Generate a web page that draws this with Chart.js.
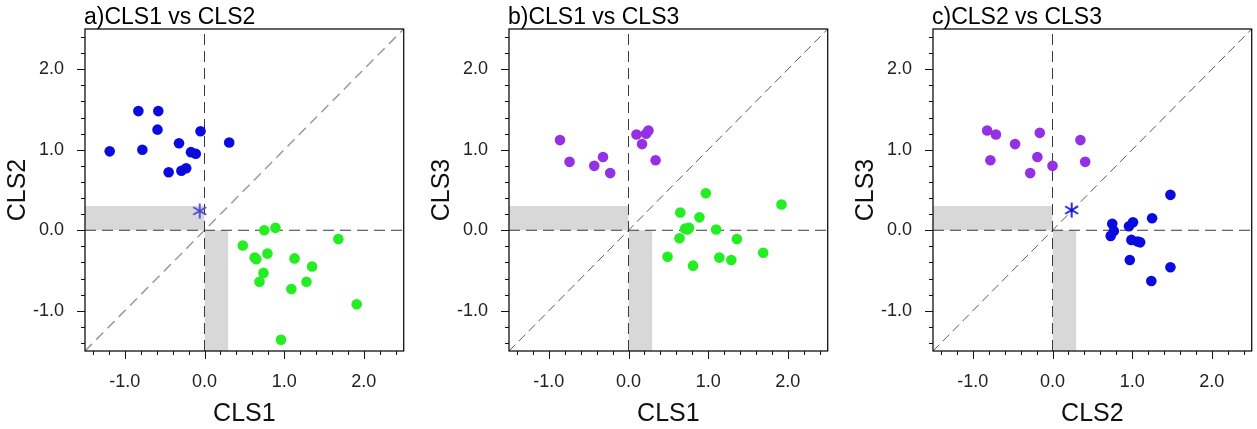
<!DOCTYPE html>
<html>
<head>
  <title>CLS scatter</title>
  <script src="https://cdn.jsdelivr.net/npm/chart.js"></script>
  <style>
    body { margin: 0; background: #fff; width: 1257px; height: 429px; position: relative; overflow: hidden; }
    canvas { position: absolute; top: 0; }
  </style>
</head>
<body>
  <canvas id="pa" width="409" height="429" style="left:0px"></canvas>
  <canvas id="pb" width="409" height="429" style="left:424px"></canvas>
  <canvas id="pc" width="409" height="429" style="left:848px"></canvas>

  <script>
    // panel a) CLS1 vs CLS2
    const aBlueX  = [-1.19, -0.83, -0.58, -0.59, -0.78, -0.05, -0.32, 0.31, -0.17, -0.11, -0.45, -0.29, -0.23];
    const aBlueY  = [0.98, 1.48, 1.48, 1.25, 1.00, 1.23, 1.08, 1.09, 0.97, 0.95, 0.72, 0.74, 0.77];
    const aGreenX = [0.75, 0.89, 0.48, 1.68, 0.63, 0.65, 0.79, 1.13, 1.35, 0.74, 0.69, 1.09, 1.28, 1.91, 0.96];
    const aGreenY = [0.00, 0.03, -0.19, -0.11, -0.34, -0.36, -0.29, -0.35, -0.45, -0.53, -0.64, -0.73, -0.64, -0.92, -1.36];
    const aStar   = [-0.06, 0.24];

    // panel b) CLS1 vs CLS3
    const bPurpleX = [-0.86, -0.74, -0.43, -0.32, -0.23, 0.10, 0.22, 0.25, 0.17, 0.34];
    const bPurpleY = [1.12, 0.85, 0.80, 0.91, 0.71, 1.19, 1.20, 1.24, 1.07, 0.87];
    const bGreenX  = [0.97, 1.92, 0.65, 0.89, 0.71, 0.76, 0.74, 1.10, 0.64, 1.36, 0.49, 1.14, 1.29, 1.69, 0.81];
    const bGreenY  = [0.46, 0.32, 0.22, 0.16, 0.02, 0.03, 0.01, 0.01, -0.10, -0.11, -0.33, -0.34, -0.37, -0.28, -0.44];

    // panel c) CLS2 vs CLS3
    const cPurpleX = [-0.82, -0.71, -0.16, -0.47, 0.35, -0.78, -0.19, 0.00, -0.28, 0.41];
    const cPurpleY = [1.24, 1.19, 1.21, 1.07, 1.12, 0.87, 0.91, 0.80, 0.71, 0.85];
    const cBlueX   = [1.48, 1.25, 0.75, 0.96, 1.01, 0.77, 0.73, 0.99, 1.10, 1.07, 0.97, 1.48, 1.24];
    const cBlueY   = [0.44, 0.15, 0.08, 0.05, 0.10, -0.01, -0.07, -0.12, -0.15, -0.14, -0.37, -0.46, -0.63];
    const cStar    = [0.24, 0.25];

    const axisMin = -1.5, axisMax = 2.5;
    const tickValues = [-1, 0, 1, 2];
    const shadeEdge = 0.3;

    const FONT = '"Liberation Sans", Arial, Helvetica, sans-serif';
    const BLUE = '#0b0be0', GREEN = '#22ee22', PURPLE = '#9530e4';

    const pts = (xs, ys) => xs.map((x, i) => ({ x: x, y: ys[i] }));

    // 3-armed asterisk marker like the original
    function asterisk(color) {
      const c = document.createElement('canvas');
      c.width = 18; c.height = 18;
      const g = c.getContext('2d');
      g.strokeStyle = color;
      g.lineWidth = 1.8;
      const r = 7.5;
      [90, 30, 150].forEach(a => {
        const t = a * Math.PI / 180;
        g.beginPath();
        g.moveTo(9 - r * Math.cos(t), 9 - r * Math.sin(t));
        g.lineTo(9 + r * Math.cos(t), 9 + r * Math.sin(t));
        g.stroke();
      });
      return c;
    }

    const frame = {
      id: 'frame',
      afterDraw(chart) {
        const { ctx, chartArea: { left, right, top, bottom }, scales: { x, y } } = chart;
        ctx.save();
        ctx.strokeStyle = '#111';
        ctx.lineWidth = 1.3;
        ctx.strokeRect(left, top, right - left, bottom - top);
        ctx.lineWidth = 1;
        ctx.beginPath();
        for (let k = -7; k <= 12; k++) {
          const len = k % 5 === 0 ? 8 : 4;
          const px = Math.round(x.getPixelForValue(k / 5)) + 0.5;
          const py = Math.round(y.getPixelForValue(k / 5)) + 0.5;
          ctx.moveTo(px, bottom); ctx.lineTo(px, bottom + len);
          ctx.moveTo(left, py); ctx.lineTo(left - len, py);
        }
        ctx.stroke();
        ctx.fillStyle = '#000';
        ctx.font = '23px ' + FONT;
        ctx.textBaseline = 'alphabetic';
        ctx.fillText(chart.options.plugins.frame.title, left - 1, 24);
        ctx.restore();
      }
    };

    function lineSet(data, color, dash, width) {
      return { type: 'line', data: data, borderColor: color, borderDash: dash, borderWidth: width,
               pointRadius: 0, fill: false, tension: 0, order: 1 };
    }

    function makePanel(id, title, xTitle, yTitle, groups, star, diag) {
      const datasets = [];
      groups.forEach(g => datasets.push({
        type: 'scatter', data: pts(g[0], g[1]), backgroundColor: g[2], borderWidth: 0,
        pointRadius: 5.3, order: 0
      }));
      if (star) datasets.push({
        type: 'scatter', data: [{ x: star[0], y: star[1] }], pointStyle: asterisk(star[2]), order: 0
      });
      datasets.push(lineSet([{ x: axisMin, y: 0 }, { x: axisMax, y: 0 }], '#3a3a3a', [11, 6], 1));
      datasets.push(lineSet([{ x: 0, y: axisMin }, { x: 0, y: axisMax }], '#3a3a3a', [11, 6], 1));
      datasets.push(lineSet([{ x: axisMin, y: axisMin }, { x: axisMax, y: axisMax }], diag[0], diag[1], diag[2]));
      datasets.push({
        type: 'line', data: [{ x: axisMin, y: shadeEdge }, { x: 0, y: shadeEdge }], fill: 'origin',
        backgroundColor: '#d8d8d8', borderWidth: 0, pointRadius: 0, order: 2
      });
      datasets.push({
        type: 'line', data: [{ x: 0, y: 0 }, { x: shadeEdge, y: 0 }], fill: { value: axisMin },
        backgroundColor: '#d8d8d8', borderWidth: 0, pointRadius: 0, order: 2
      });

      const tickFont = { family: FONT, size: 18 };
      const titleFont = { family: FONT, size: 25 };
      const scale = (t, isX) => ({
        type: 'linear', min: axisMin, max: axisMax,
        afterBuildTicks: s => { s.ticks = tickValues.map(v => ({ value: v })); },
        afterFit: s => { if (isX) s.height = 78; else s.width = 85; },
        ticks: { font: tickFont, color: '#222', padding: isX ? 12 : 13, callback: v => v.toFixed(1), maxRotation: 0 },
        grid: { display: true, drawOnChartArea: false, drawTicks: true, tickLength: 8, color: 'rgba(0,0,0,0)' },
        border: { display: false },
        title: { display: true, text: t, font: titleFont, color: '#111',
                 padding: isX ? { top: 0, bottom: 0 } : { top: 3, bottom: 0 } }
      });

      new Chart(document.getElementById(id), {
        type: 'scatter',
        data: { datasets: datasets },
        options: {
          responsive: false,
          animation: false,
          layout: { padding: { top: 29, right: 3, left: 0, bottom: 0 } },
          plugins: { legend: { display: false }, tooltip: { enabled: false }, frame: { title: title } },
          scales: { x: scale(xTitle, true), y: scale(yTitle, false) }
        },
        plugins: [frame]
      });
    }

    makePanel('pa', 'a)CLS1 vs CLS2', 'CLS1', 'CLS2',
      [[aBlueX, aBlueY, BLUE], [aGreenX, aGreenY, GREEN]],
      [aStar[0], aStar[1], '#4a4ad0'], ['#9a9a9a', [10, 6], 1.5]);

    makePanel('pb', 'b)CLS1 vs CLS3', 'CLS1', 'CLS3',
      [[bPurpleX, bPurpleY, PURPLE], [bGreenX, bGreenY, GREEN]],
      null, ['#5a5a5a', [9, 5], 1]);

    makePanel('pc', 'c)CLS2 vs CLS3', 'CLS2', 'CLS3',
      [[cPurpleX, cPurpleY, PURPLE], [cBlueX, cBlueY, BLUE]],
      [cStar[0], cStar[1], '#1515d8'], ['#5a5a5a', [9, 5], 1]);
  </script>
</body>
</html>
